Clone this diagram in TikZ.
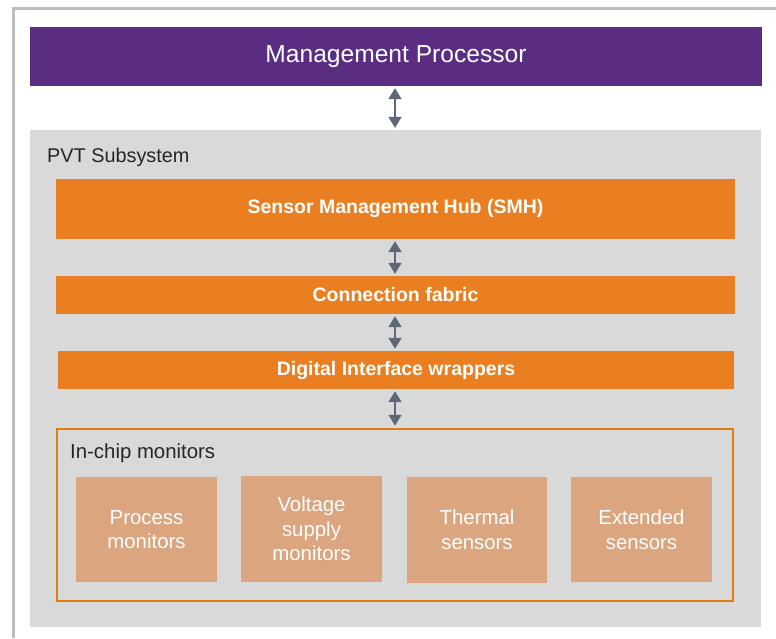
\documentclass[tikz,border=0pt]{standalone}
\usepackage{fontspec}
\setmainfont{Liberation Sans}
\usetikzlibrary{arrows.meta}

\definecolor{mgmtpurple}{HTML}{5A2D82}
\definecolor{hubor}{HTML}{EA7F22}
\definecolor{frameor}{HTML}{E07D12}
\definecolor{montan}{HTML}{DBA57F}
\definecolor{pvtgray}{HTML}{D9D9D9}
\definecolor{linkgray}{HTML}{5F6879}
\definecolor{edgegray}{HTML}{BDBDBD}

\begin{document}
\begin{tikzpicture}[x=0.02cm,y=-0.02cm,
    bar/.style={fill=hubor, text=white, font=\bfseries\fontsize{11.1}{13}\selectfont, inner sep=0pt},
    mon/.style={fill=montan, text=white, font=\fontsize{11.6}{14}\selectfont, align=center,
        minimum width=2.82cm, minimum height=2.12cm, inner sep=0pt},
    link/.style={linkgray, line width=0.055cm, {Triangle[width=0.25cm,length=0.22cm]}-{Triangle[width=0.25cm,length=0.22cm]}, shorten <=1pt, shorten >=1pt}]
        \useasboundingbox (0,0) rectangle (776,638);

        % Frame
        \draw[edgegray, line width=0.06cm] (13.5,638) -- (13.5,9) -- (776,9);

        % Management processor
        \node[fill=mgmtpurple, text=white, font=\fontsize{14}{16}\selectfont, minimum width=14.64cm, minimum height=1.18cm, inner sep=0pt]
            (mp) at (396,56.5) {Management Processor};

        % PVT subsystem
        \node[fill=pvtgray, minimum width=14.62cm, minimum height=9.94cm, inner sep=0pt] (pvt) at (395.5,378.5) {};
        \node[anchor=west, text=black!85, font=\fontsize{11.3}{13}\selectfont] (pvtlbl) at (41,157) {PVT Subsystem};

        % Hub, fabric and wrappers
        \node[bar, minimum width=13.58cm, minimum height=1.2cm] (smh) at (395.5,209) {Sensor Management Hub (SMH)};
        \node[bar, minimum width=13.58cm, minimum height=0.76cm] (fab) at (395.5,295) {Connection fabric};
        \node[bar, minimum width=13.52cm, minimum height=0.76cm] (dig) at (396,370) {Digital Interface wrappers};

        % In-chip monitors
        \node[draw=frameor, line width=0.04cm, minimum width=13.52cm, minimum height=3.46cm, inner sep=0pt] (chip) at (395,515) {};
        \node[anchor=west, text=black!85, font=\fontsize{11.6}{13}\selectfont] (chiplbl) at (64,453) {In-chip monitors};

        \node[mon] (proc) at (146.5,529.5) {Process\\monitors};
        \node[mon] (volt) at (311.5,529) {Voltage\\supply\\monitors};
        \node[mon] (therm) at (477,530) {Thermal\\sensors};
        \node[mon] (ext) at (641.5,529.5) {Extended\\sensors};

        % Links
        \draw[link] (mp.south -| 395,0) -- (pvt.north -| 395,0);
        \draw[link] (smh.south -| 395,0) -- (fab.north -| 395,0);
        \draw[link] (fab.south -| 395,0) -- (dig.north -| 395,0);
        \draw[link] (dig.south -| 395,0) -- (chip.north -| 395,0);
\end{tikzpicture}
\end{document}
